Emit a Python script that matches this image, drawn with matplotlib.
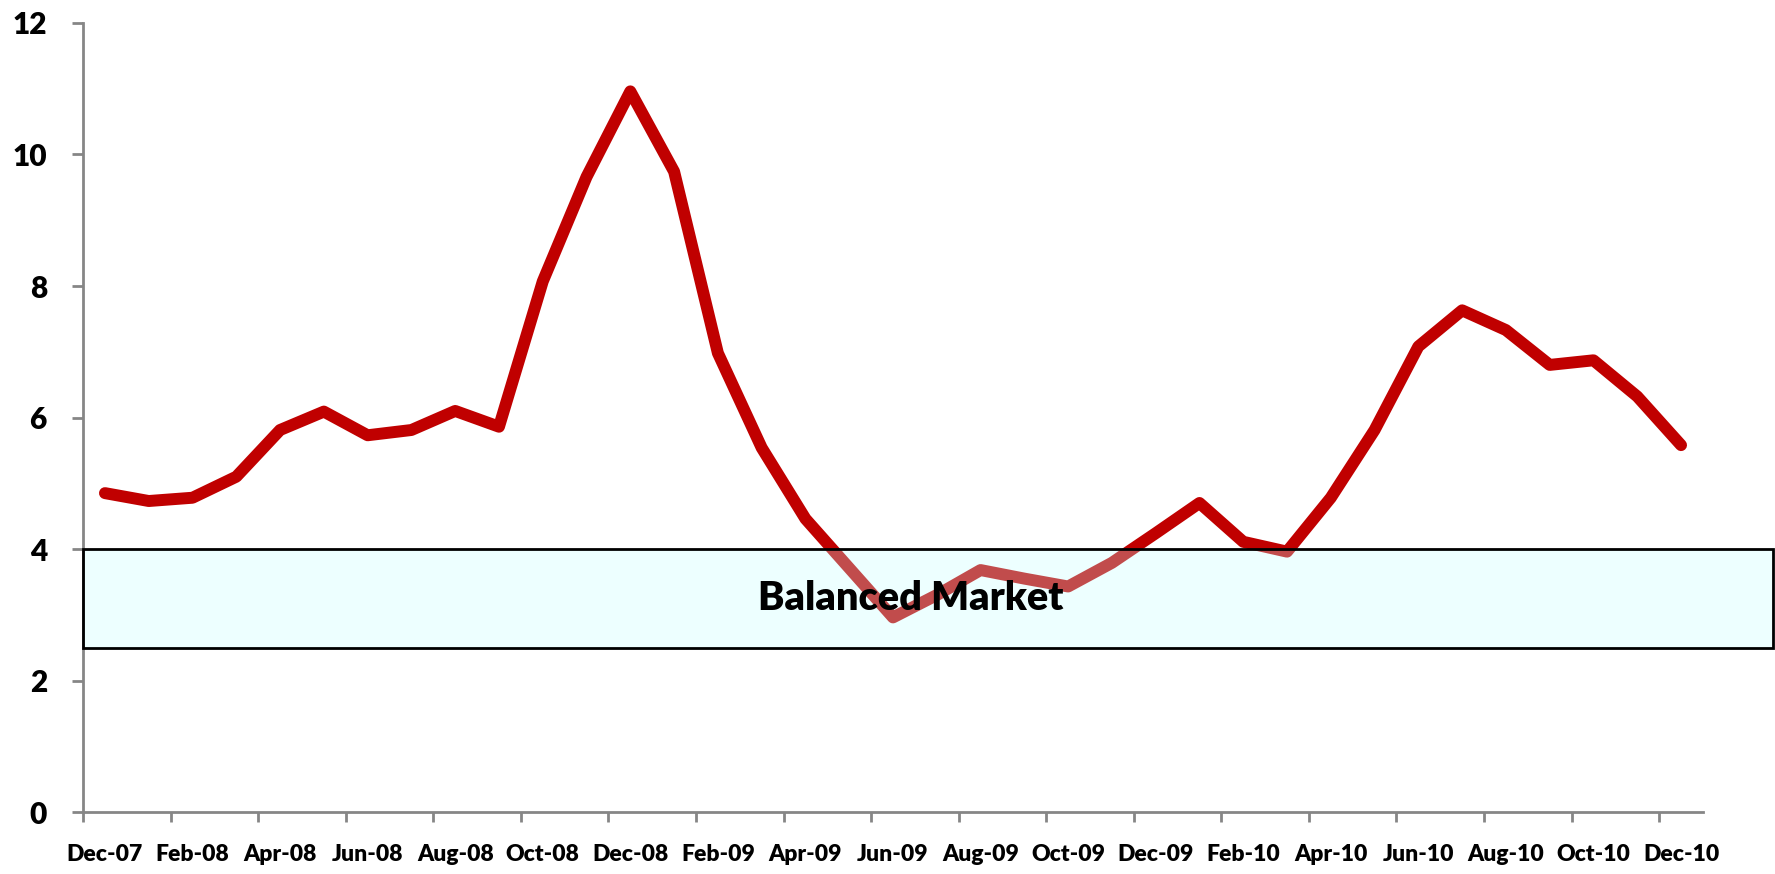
import numpy as np
import matplotlib.pyplot as plt
from matplotlib.patches import Rectangle

plt.rcParams['font.family'] = ['Lato', 'DejaVu Sans']
plt.rcParams['font.weight'] = 'heavy'

months = ['Dec-07', 'Jan-08', 'Feb-08', 'Mar-08', 'Apr-08', 'May-08', 'Jun-08', 'Jul-08',
          'Aug-08', 'Sep-08', 'Oct-08', 'Nov-08', 'Dec-08', 'Jan-09', 'Feb-09', 'Mar-09',
          'Apr-09', 'May-09', 'Jun-09', 'Jul-09', 'Aug-09', 'Sep-09', 'Oct-09', 'Nov-09',
          'Dec-09', 'Jan-10', 'Feb-10', 'Mar-10', 'Apr-10', 'May-10', 'Jun-10', 'Jul-10',
          'Aug-10', 'Sep-10', 'Oct-10', 'Nov-10', 'Dec-10']
supply = [4.85, 4.73, 4.78, 5.10, 5.81, 6.09, 5.73, 5.81,
          6.10, 5.86, 8.07, 9.66, 10.96, 9.74, 6.98, 5.54,
          4.46, 3.71, 2.96, 3.30, 3.68, 3.55, 3.43, 3.79,
          4.24, 4.70, 4.11, 3.96, 4.78, 5.81, 7.08, 7.63,
          7.33, 6.80, 6.87, 6.32, 5.58]
balanced_low, balanced_high = 2.5, 4.0

fig = plt.figure(figsize=(17.75, 8.74), dpi=100)
ax = fig.add_axes([0.0468, 0.0709, 0.9126, 0.9028])

x = np.arange(len(months))
ax.plot(x, supply, color='#C00000', lw=8.6, solid_capstyle='round',
        solid_joinstyle='round', zorder=2)

# balanced market band, semi transparent, runs past the axis end
band = Rectangle((-0.5, balanced_low), len(months) + 1.6, balanced_high - balanced_low,
                 facecolor=(198/255, 1, 1, 0.3), edgecolor='black', lw=2,
                 clip_on=False, zorder=3)
ax.add_patch(band)
ax.text(18.4, (balanced_low + balanced_high) / 2, 'Balanced Market', ha='center',
        va='center', fontsize=28.5, fontweight='heavy', color='black', zorder=4)

ax.set_xlim(-0.5, len(months) - 0.5)
ax.set_ylim(0, 12)
ax.set_yticks(np.arange(0, 13, 2))
ax.set_yticklabels([str(v) for v in range(0, 13, 2)], fontsize=21.5, fontweight='heavy')

ax.set_xticks(np.arange(-0.5, len(months) - 1, 2))
ax.set_xticklabels([])
ax.set_xticks(x[::2], minor=True)
ax.set_xticklabels(months[::2], minor=True, fontsize=16.5, fontweight='heavy')

ax.tick_params(axis='x', which='major', length=7, width=2, color='#868686', direction='out')
ax.tick_params(axis='x', which='minor', length=0, pad=23)
ax.tick_params(axis='y', length=8, width=2, color='#868686', direction='out', pad=18)

for side in ['top', 'right']:
    ax.spines[side].set_visible(False)
for side in ['left', 'bottom']:
    ax.spines[side].set_color('#868686')
    ax.spines[side].set_linewidth(2)

fig.savefig('out.png', dpi=100)
